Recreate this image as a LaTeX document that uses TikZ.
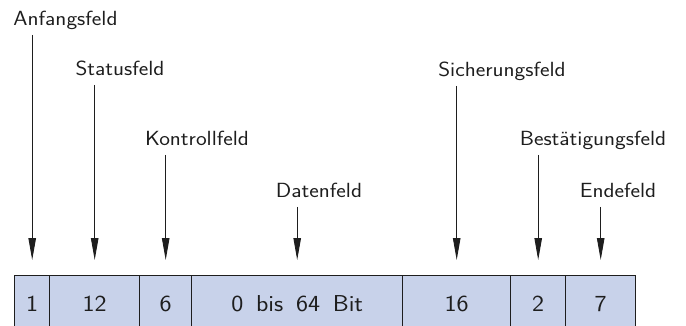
\documentclass[tikz,border=0pt]{standalone}
\usetikzlibrary{arrows.meta,calc}
\definecolor{cellfill}{HTML}{C8D2EA}
\definecolor{ink}{HTML}{1E1E1E}
\newcommand{\wide}[1]{\scalebox{1.11}[1]{#1}}
\begin{document}
\begin{tikzpicture}[x=1pt,y=-1pt,
  lab/.style={anchor=base,inner sep=0pt,font=\sffamily\fontsize{20.5}{24}\selectfont,text=ink},
  cell/.style={draw=ink,line width=1.4pt,fill=cellfill,anchor=north west,inner sep=0pt,
    minimum height=56pt,font=\sffamily\fontsize{23}{27}\selectfont,text=ink},
  pfeil/.style={draw=ink,line width=0.9pt,-{Triangle[length=22pt,width=7.5pt]}}]
\clip (0,0) rectangle (686,326);
% cells
\node[cell,minimum width=35pt]  (c1) at (14,275)  {\wide{1}};
\node[cell,minimum width=90pt]  (c2) at (49,275)  {\wide{12}};
\node[cell,minimum width=52pt]  (c3) at (139,275) {\wide{6}};
\node[cell,minimum width=211pt] (c4) at (191,275) {\wide{0\hspace{0.5em}bis\hspace{0.5em}64\hspace{0.5em}Bit}};
\node[cell,minimum width=108pt] (c5) at (402,275) {\wide{16}};
\node[cell,minimum width=55pt]  (c6) at (510,275) {\wide{2}};
\node[cell,minimum width=70pt]  (c7) at (565,275) {\wide{7}};
% labels
\node[lab] (l1) at (65.5,26)  {\wide{Anfangsfeld}};
\node[lab] (l2) at (120,76)   {\wide{Statusfeld}};
\node[lab] (l3) at (197,146)  {\wide{Kontrollfeld}};
\node[lab] (l4) at (319,198)  {\wide{Datenfeld}};
\node[lab] (l5) at (502,77)   {\wide{Sicherungsfeld}};
\node[lab] (l6) at (593,146)  {\wide{Bestätigungsfeld}};
\node[lab] (l7) at (618,198)  {\wide{Endefeld}};
% arrows
\foreach \i in {1,...,7}{
  \draw[pfeil] ($(l\i.base -| c\i.north)+(0,-9pt)$) -- ($(c\i.north)+(0,15pt)$);
}
\end{tikzpicture}
\end{document}
